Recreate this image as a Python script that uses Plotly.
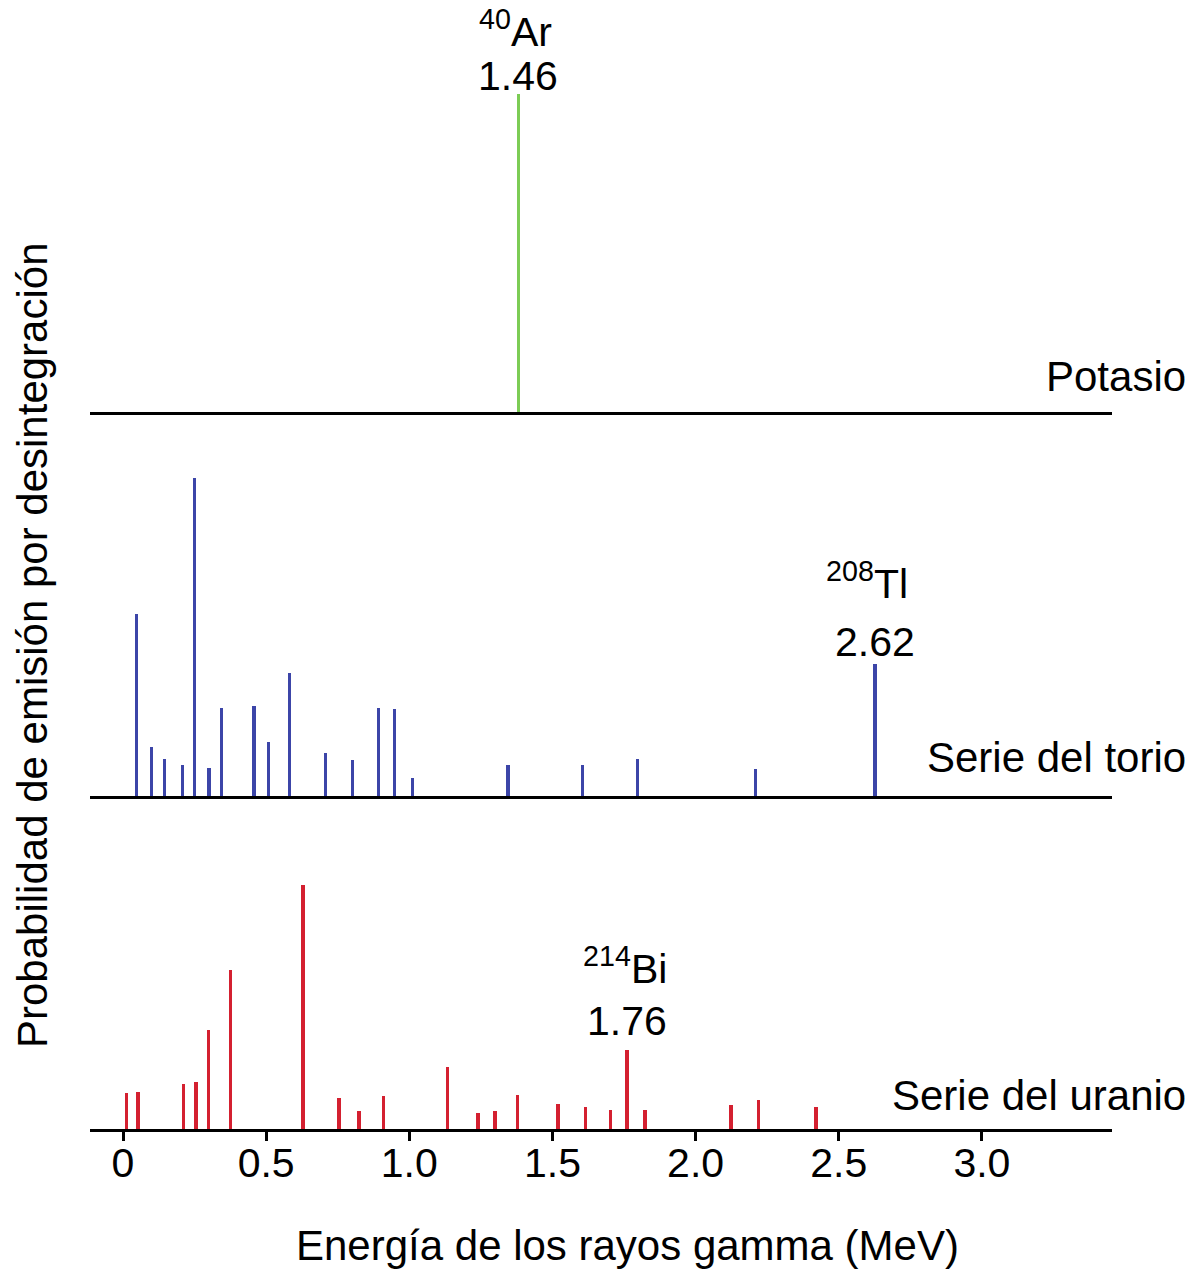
import plotly.graph_objects as go
from plotly.subplots import make_subplots

# ---- data (energy in MeV, relative emission probability, arbitrary units) ----
potasio_e = [1.381]
potasio_p = [3.18]

torio_e = [0.048, 0.099, 0.144, 0.207, 0.249, 0.301, 0.345, 0.458, 0.508, 0.582,
           0.707, 0.801, 0.893, 0.949, 1.012, 1.345, 1.604, 1.798, 2.210, 2.627]
torio_p = [1.82, 0.49, 0.37, 0.31, 3.18, 0.28, 0.88, 0.90, 0.54, 1.23,
           0.43, 0.36, 0.88, 0.87, 0.18, 0.31, 0.31, 0.37, 0.27, 1.32]

uranio_e = [0.013, 0.053, 0.211, 0.255, 0.299, 0.376, 0.629, 0.755, 0.825, 0.909,
            1.134, 1.240, 1.299, 1.377, 1.520, 1.615, 1.703, 1.760, 1.824, 2.124,
            2.220, 2.421]
uranio_p = [0.36, 0.37, 0.45, 0.47, 0.99, 1.59, 2.44, 0.31, 0.18, 0.33,
            0.62, 0.16, 0.18, 0.34, 0.25, 0.22, 0.19, 0.79, 0.19, 0.24,
            0.29, 0.22]

tick_vals = [0, 0.5, 1.0, 1.5, 2.0, 2.5, 3.0]
tick_text = ["0", "0.5", "1.0", "1.5", "2.0", "2.5", "3.0"]

series_names = ["Potasio", "Serie del torio", "Serie del uranio"]
isotope_labels = ["<sup>40</sup>Ar", "<sup>208</sup>Tl", "<sup>214</sup>Bi"]
peak_values = ["1.46", "2.62", "1.76"]
peak_pos = [1.381, 2.627, 1.760]

# ---- layout geometry ----
W, H = 1197, 1274
ML, MR, MT, MB = 90, 85, 20, 145
plot_h = H - MT - MB
plot_w = W - ML - MR
bottom_px = H - MB
px_per_unit = 100.0

def py(px):
    return (bottom_px - px) / plot_h

def pxx(px):
    return (px - ML) / plot_w

# panel (baseline px, top px)
panels = [(412, MT), (796, 440), (1129, 840)]

FONT = "Liberation Sans, Arial, sans-serif"
colors = ["#7ccc55", "#3c45a8", "#d42030"]
data = [(potasio_e, potasio_p), (torio_e, torio_p), (uranio_e, uranio_p)]

fig = make_subplots(rows=3, cols=1, shared_xaxes=True, vertical_spacing=0.02)

xr = [(ML - 123) / 286.3, (W - MR - 123) / 286.3]

for i, ((e, p), col) in enumerate(zip(data, colors)):
    fig.add_trace(go.Bar(x=e, y=p, width=0.012, marker=dict(color=col, line=dict(width=0)),
                         showlegend=False, hoverinfo="x+y"), row=i + 1, col=1)

for i, (base, top) in enumerate(panels):
    yname = "yaxis" if i == 0 else f"yaxis{i + 1}"
    xname = "xaxis" if i == 0 else f"xaxis{i + 1}"
    fig.layout[yname].update(domain=[py(base), py(top)],
                             range=[0, (base - top) / px_per_unit],
                             visible=False, fixedrange=True)
    last = i == 2
    fig.layout[xname].update(range=xr, showline=True, linecolor="black", linewidth=3,
                             showgrid=False, zeroline=False,
                             ticks="outside" if last else "", ticklen=9, tickwidth=2.5,
                             tickcolor="black",
                             tickvals=tick_vals, ticktext=tick_text,
                             showticklabels=last,
                             tickfont=dict(family=FONT, size=41, color="black"))

try:
    fig.layout.xaxis3.ticklabelstandoff = -13
except Exception:
    pass

annotations = []
# series names on the right
name_y = [377, 757, 1095]
for name, y in zip(series_names, name_y):
    annotations.append(dict(text=name, xref="paper", yref="paper", x=pxx(1188),
                            y=py(y), xanchor="right", yanchor="middle", showarrow=False,
                            font=dict(family=FONT, size=42, color="black")))
# peak labels (isotope and energy)
iso_y = [29, 581, 966]
val_y = [76, 642, 1021]
iso_x = [1.37, 2.60, 1.752]
for i in range(3):
    xref = "x" if i == 0 else f"x{i + 1}"
    annotations.append(dict(text=isotope_labels[i], xref=xref, yref="paper", x=iso_x[i],
                            y=py(iso_y[i]), xanchor="center", yanchor="middle", showarrow=False,
                            font=dict(family=FONT, size=41, color="black")))
    annotations.append(dict(text=peak_values[i], xref=xref, yref="paper", x=peak_pos[i],
                            y=py(val_y[i]), xanchor="center", yanchor="middle", showarrow=False,
                            font=dict(family=FONT, size=41, color="black")))
# y title
annotations.append(dict(text="Probabilidad de emisión por desintegración", xref="paper", yref="paper",
                        x=pxx(32), y=py(645), textangle=-90,
                        xanchor="center", yanchor="middle", showarrow=False,
                        font=dict(family=FONT, size=42, color="black")))
# x title
annotations.append(dict(text="Energía de los rayos gamma (MeV)", xref="paper", yref="paper",
                        x=pxx(627), y=py(1245), xanchor="center", yanchor="middle",
                        showarrow=False, font=dict(family=FONT, size=42, color="black")))

fig.update_layout(width=W, height=H, margin=dict(l=ML, r=MR, t=MT, b=MB),
                  plot_bgcolor="white", paper_bgcolor="white", bargap=0,
                  annotations=annotations)

fig.write_html("out.html")
